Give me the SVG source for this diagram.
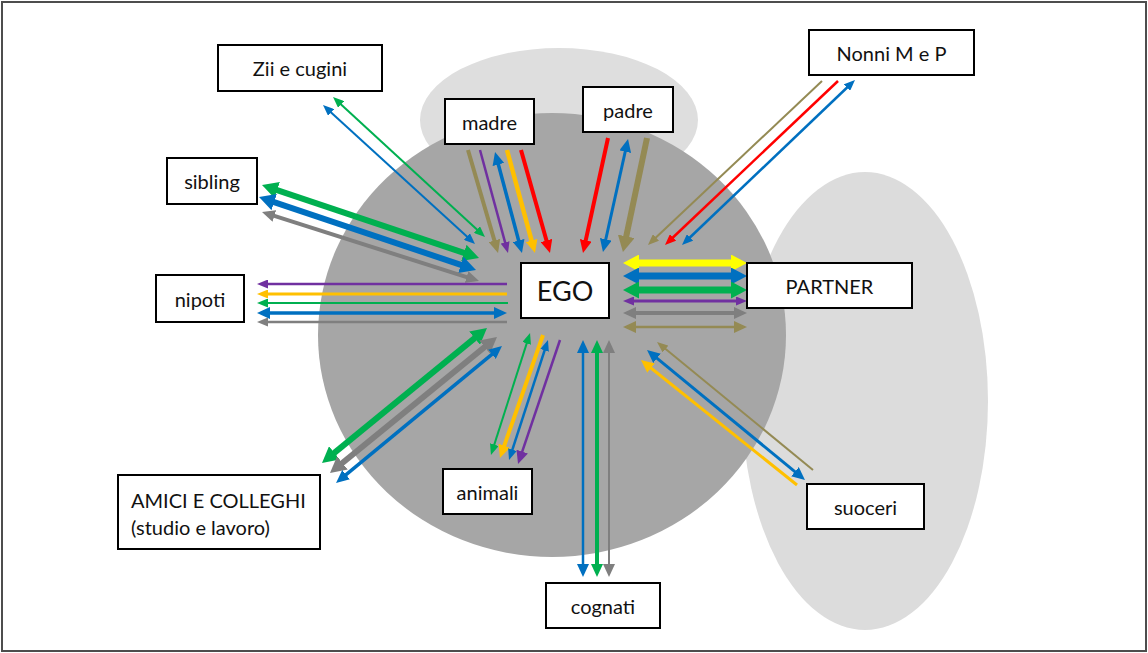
<svg xmlns="http://www.w3.org/2000/svg" width="1148" height="653" viewBox="0 0 1148 653">
<defs>
<style>
.box{fill:#fff;stroke:#000;stroke-width:2}
.lbl{font-family:Lato,"Open Sans","Liberation Sans",sans-serif;font-size:20px;fill:#111;text-anchor:middle;dominant-baseline:central}
line{fill:none}
.g{stroke:#00b050}.b{stroke:#0070c0}.k{stroke:#7f7f7f}.o{stroke:#948a54}
.p{stroke:#7030a0}.y{stroke:#ffc000}.r{stroke:#ff0000}.w{stroke:#ffff00}
</style>
<marker id="gS" markerUnits="userSpaceOnUse" markerWidth="11" markerHeight="9" viewBox="0 0 11 9" refX="3" refY="4.5" orient="auto-start-reverse"><path d="M0,0L11,4.5L0,9z" fill="#00b050"/></marker>
<marker id="gM" markerUnits="userSpaceOnUse" markerWidth="13" markerHeight="12" viewBox="0 0 13 12" refX="5" refY="6" orient="auto-start-reverse"><path d="M0,0L13,6L0,12z" fill="#00b050"/></marker>
<marker id="gL" markerUnits="userSpaceOnUse" markerWidth="16" markerHeight="17" viewBox="0 0 16 17" refX="8" refY="8.5" orient="auto-start-reverse"><path d="M0,0L16,8.5L0,17z" fill="#00b050"/></marker>
<marker id="bS" markerUnits="userSpaceOnUse" markerWidth="11" markerHeight="9" viewBox="0 0 11 9" refX="3" refY="4.5" orient="auto-start-reverse"><path d="M0,0L11,4.5L0,9z" fill="#0070c0"/></marker>
<marker id="bM" markerUnits="userSpaceOnUse" markerWidth="13" markerHeight="12" viewBox="0 0 13 12" refX="5" refY="6" orient="auto-start-reverse"><path d="M0,0L13,6L0,12z" fill="#0070c0"/></marker>
<marker id="bL" markerUnits="userSpaceOnUse" markerWidth="16" markerHeight="17" viewBox="0 0 16 17" refX="8" refY="8.5" orient="auto-start-reverse"><path d="M0,0L16,8.5L0,17z" fill="#0070c0"/></marker>
<marker id="kS" markerUnits="userSpaceOnUse" markerWidth="11" markerHeight="9" viewBox="0 0 11 9" refX="3" refY="4.5" orient="auto-start-reverse"><path d="M0,0L11,4.5L0,9z" fill="#7f7f7f"/></marker>
<marker id="kM" markerUnits="userSpaceOnUse" markerWidth="13" markerHeight="12" viewBox="0 0 13 12" refX="5" refY="6" orient="auto-start-reverse"><path d="M0,0L13,6L0,12z" fill="#7f7f7f"/></marker>
<marker id="kL" markerUnits="userSpaceOnUse" markerWidth="16" markerHeight="17" viewBox="0 0 16 17" refX="8" refY="8.5" orient="auto-start-reverse"><path d="M0,0L16,8.5L0,17z" fill="#7f7f7f"/></marker>
<marker id="oS" markerUnits="userSpaceOnUse" markerWidth="11" markerHeight="9" viewBox="0 0 11 9" refX="3" refY="4.5" orient="auto-start-reverse"><path d="M0,0L11,4.5L0,9z" fill="#948a54"/></marker>
<marker id="oM" markerUnits="userSpaceOnUse" markerWidth="13" markerHeight="12" viewBox="0 0 13 12" refX="5" refY="6" orient="auto-start-reverse"><path d="M0,0L13,6L0,12z" fill="#948a54"/></marker>
<marker id="oL" markerUnits="userSpaceOnUse" markerWidth="16" markerHeight="17" viewBox="0 0 16 17" refX="8" refY="8.5" orient="auto-start-reverse"><path d="M0,0L16,8.5L0,17z" fill="#948a54"/></marker>
<marker id="pS" markerUnits="userSpaceOnUse" markerWidth="11" markerHeight="9" viewBox="0 0 11 9" refX="3" refY="4.5" orient="auto-start-reverse"><path d="M0,0L11,4.5L0,9z" fill="#7030a0"/></marker>
<marker id="pM" markerUnits="userSpaceOnUse" markerWidth="13" markerHeight="12" viewBox="0 0 13 12" refX="5" refY="6" orient="auto-start-reverse"><path d="M0,0L13,6L0,12z" fill="#7030a0"/></marker>
<marker id="yS" markerUnits="userSpaceOnUse" markerWidth="11" markerHeight="9" viewBox="0 0 11 9" refX="3" refY="4.5" orient="auto-start-reverse"><path d="M0,0L11,4.5L0,9z" fill="#ffc000"/></marker>
<marker id="yM" markerUnits="userSpaceOnUse" markerWidth="13" markerHeight="12" viewBox="0 0 13 12" refX="5" refY="6" orient="auto-start-reverse"><path d="M0,0L13,6L0,12z" fill="#ffc000"/></marker>
<marker id="rS" markerUnits="userSpaceOnUse" markerWidth="11" markerHeight="9" viewBox="0 0 11 9" refX="3" refY="4.5" orient="auto-start-reverse"><path d="M0,0L11,4.5L0,9z" fill="#ff0000"/></marker>
<marker id="rM" markerUnits="userSpaceOnUse" markerWidth="13" markerHeight="12" viewBox="0 0 13 12" refX="5" refY="6" orient="auto-start-reverse"><path d="M0,0L13,6L0,12z" fill="#ff0000"/></marker>
<marker id="wL" markerUnits="userSpaceOnUse" markerWidth="16" markerHeight="17" viewBox="0 0 16 17" refX="8" refY="8.5" orient="auto-start-reverse"><path d="M0,0L16,8.5L0,17z" fill="#ffff00"/></marker>
</defs>
<rect x="0" y="0" width="1148" height="653" fill="#fff"/>
<rect x="2" y="2" width="1144" height="649" fill="none" stroke="#4d4d4d" stroke-width="2"/>
<g id="background">
<ellipse cx="559" cy="120" rx="139" ry="72" fill="#dedede"/>
<ellipse cx="865" cy="401" rx="123" ry="229" fill="#dcdcdc"/>
<ellipse cx="552" cy="335" rx="234" ry="222" fill="#a6a6a6"/>
</g>
<g id="connectors">
<!-- Zii e cugini -->
<line class="g" stroke-width="2" x1="338.9" y1="102.4" x2="479.1" y2="231.6" marker-start="url(#gS)" marker-end="url(#gS)"/>
<line class="b" stroke-width="2" x1="328.9" y1="110.4" x2="469.1" y2="238.6" marker-start="url(#bS)" marker-end="url(#bS)"/>
<!-- sibling -->
<line class="g" stroke-width="6" x1="269.6" y1="187.6" x2="471.4" y2="255.4" marker-start="url(#gL)" marker-end="url(#gL)"/>
<line class="b" stroke-width="6" x1="266.6" y1="199.6" x2="468.4" y2="267.4" marker-start="url(#bL)" marker-end="url(#bL)"/>
<line class="k" stroke-width="4" x1="269.6" y1="214.4" x2="471.4" y2="278.6" marker-start="url(#kM)" marker-end="url(#kM)"/>
<!-- madre -->
<line class="o" stroke-width="4" x1="468" y1="150" x2="495.8" y2="245.3" marker-end="url(#oM)"/>
<line class="p" stroke-width="2.5" x1="480" y1="150" x2="505.9" y2="245.3" marker-end="url(#pS)"/>
<line class="b" stroke-width="3.5" x1="497.1" y1="159.7" x2="519.9" y2="245.3" marker-start="url(#bM)" marker-end="url(#bM)"/>
<line class="y" stroke-width="4.5" x1="507" y1="150" x2="532.9" y2="245.3" marker-end="url(#yM)"/>
<line class="r" stroke-width="4" x1="521" y1="150" x2="547.8" y2="245.3" marker-end="url(#rM)"/>
<!-- padre -->
<line class="r" stroke-width="4" x1="608" y1="138" x2="584.7" y2="245.2" marker-end="url(#rM)"/>
<line class="b" stroke-width="3" x1="626.3" y1="146.8" x2="604.7" y2="244.2" marker-start="url(#bM)" marker-end="url(#bM)"/>
<line class="o" stroke-width="6" x1="647" y1="138" x2="624.6" y2="244.2" marker-end="url(#oL)"/>
<!-- Nonni -->
<line class="o" stroke-width="2" x1="822" y1="81" x2="653.8" y2="239.5" marker-end="url(#oS)"/>
<line class="r" stroke-width="2.5" x1="838" y1="81" x2="670.8" y2="239.5" marker-end="url(#rS)"/>
<line class="b" stroke-width="2.5" x1="849.2" y1="85.5" x2="687.8" y2="239.5" marker-start="url(#bS)" marker-end="url(#bS)"/>
<!-- partner -->
<line class="w" stroke-width="7" x1="631" y1="263" x2="739" y2="263" marker-start="url(#wL)" marker-end="url(#wL)"/>
<line class="b" stroke-width="7" x1="631" y1="276" x2="739" y2="276" marker-start="url(#bL)" marker-end="url(#bL)"/>
<line class="g" stroke-width="7" x1="631" y1="290" x2="739" y2="290" marker-start="url(#gL)" marker-end="url(#gL)"/>
<line class="p" stroke-width="3" x1="631" y1="301" x2="739" y2="301" marker-start="url(#pS)" marker-end="url(#pS)"/>
<line class="k" stroke-width="4" x1="631" y1="313" x2="739" y2="313" marker-start="url(#kM)" marker-end="url(#kM)"/>
<line class="o" stroke-width="2.5" x1="631" y1="327" x2="739" y2="327" marker-start="url(#oM)" marker-end="url(#oM)"/>
<!-- nipoti -->
<line class="p" stroke-width="2.5" x1="507" y1="284" x2="265" y2="284" marker-end="url(#pS)"/>
<line class="y" stroke-width="3" x1="507" y1="294" x2="265" y2="294" marker-end="url(#yS)"/>
<line class="g" stroke-width="2" x1="508" y1="303" x2="265" y2="303" marker-end="url(#gS)"/>
<line class="b" stroke-width="3.5" x1="499" y1="313" x2="265" y2="313" marker-start="url(#bM)" marker-end="url(#bM)"/>
<line class="k" stroke-width="2.5" x1="507" y1="322" x2="265" y2="322" marker-end="url(#kS)"/>
<!-- amici -->
<line class="g" stroke-width="6" x1="480.8" y1="333.1" x2="328.2" y2="457.9" marker-start="url(#gL)" marker-end="url(#gL)"/>
<line class="k" stroke-width="6" x1="490.8" y1="342" x2="336.2" y2="468" marker-start="url(#kL)" marker-end="url(#kL)"/>
<line class="b" stroke-width="3.5" x1="495.8" y1="351.1" x2="342.2" y2="477.9" marker-start="url(#bM)" marker-end="url(#bM)"/>
<!-- animali -->
<line class="g" stroke-width="2" x1="527.6" y1="340.6" x2="493.4" y2="447.4" marker-start="url(#gS)" marker-end="url(#gS)"/>
<line class="y" stroke-width="4" x1="543" y1="335" x2="502.6" y2="450.4" marker-end="url(#yM)"/>
<line class="b" stroke-width="2.5" x1="545.5" y1="347.6" x2="511.5" y2="452.4" marker-start="url(#bS)" marker-end="url(#bS)"/>
<line class="p" stroke-width="2.5" x1="560" y1="340" x2="520.6" y2="456.4" marker-end="url(#pM)"/>
<!-- cognati -->
<line class="b" stroke-width="2.5" x1="583" y1="348" x2="583" y2="569" marker-start="url(#bM)" marker-end="url(#bM)"/>
<line class="g" stroke-width="4" x1="597" y1="348" x2="597" y2="569" marker-start="url(#gM)" marker-end="url(#gM)"/>
<line class="k" stroke-width="2" x1="609" y1="348" x2="609" y2="569" marker-start="url(#kM)" marker-end="url(#kM)"/>
<!-- suoceri -->
<line class="o" stroke-width="2" x1="813" y1="470" x2="663.2" y2="347.1" marker-end="url(#oS)"/>
<line class="b" stroke-width="3" x1="798.8" y1="474.9" x2="653.2" y2="355.1" marker-start="url(#bM)" marker-end="url(#bM)"/>
<line class="y" stroke-width="3" x1="797" y1="485" x2="647.2" y2="365" marker-end="url(#yM)"/>
</g>
<g id="zii"><rect class="box" x="218" y="45" width="164" height="46"/><text class="lbl" x="300" y="68">Zii e cugini</text></g>
<g id="sibling"><rect class="box" x="167" y="158" width="90" height="46"/><text class="lbl" x="212" y="181">sibling</text></g>
<g id="madre"><rect class="box" x="445" y="99" width="89" height="45"/><text class="lbl" x="489.5" y="121.5">madre</text></g>
<g id="padre"><rect class="box" x="583" y="87" width="90" height="45"/><text class="lbl" x="628" y="109.5">padre</text></g>
<g id="nonni"><rect class="box" x="809" y="30" width="165" height="45"/><text class="lbl" x="891.5" y="52.5">Nonni M e P</text></g>
<g id="ego"><rect class="box" x="521" y="263" width="88" height="55"/><text class="lbl" x="565" y="290.5" style="font-size:27px">EGO</text></g>
<g id="partner"><rect class="box" x="747" y="263" width="165" height="45"/><text class="lbl" x="829.5" y="285.5">PARTNER</text></g>
<g id="nipoti"><rect class="box" x="156" y="275" width="88" height="47"/><text class="lbl" x="200" y="298.5">nipoti</text></g>
<g id="amici"><rect class="box" x="118" y="475" width="202" height="74"/><text class="lbl" x="131" y="500" style="text-anchor:start">AMICI E COLLEGHI</text><text class="lbl" x="131" y="527" style="text-anchor:start">(studio e lavoro)</text></g>
<g id="animali"><rect class="box" x="443" y="469" width="89" height="45"/><text class="lbl" x="487.5" y="491.5">animali</text></g>
<g id="cognati"><rect class="box" x="546" y="583" width="114" height="45"/><text class="lbl" x="603" y="605.5">cognati</text></g>
<g id="suoceri"><rect class="box" x="807" y="484" width="117" height="45"/><text class="lbl" x="865.5" y="506.5">suoceri</text></g>
</svg>
